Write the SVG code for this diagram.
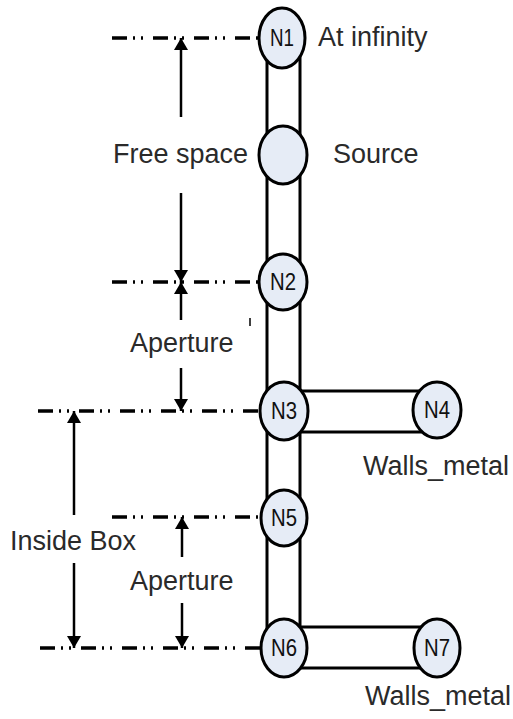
<svg xmlns="http://www.w3.org/2000/svg" width="513" height="719" viewBox="0 0 513 719">
<style>
.dash{stroke:#000;stroke-width:3.5;fill:none;stroke-dasharray:15 6 2 6 2 10}
.dim{stroke:#000;stroke-width:2.5;fill:none;marker-end:url(#ah)}
.tube{stroke:#000;stroke-width:3;fill:none}
.node ellipse{fill:#E6ECF6;stroke:#000;stroke-width:3}
.nl{font-family:"Liberation Sans",Arial,sans-serif;font-size:23px;fill:#111;text-anchor:middle}
.lbl{font-family:"Liberation Sans",Arial,sans-serif;font-size:27px;fill:#2a2a2a}
</style>
<defs>
<marker id="ah" markerUnits="userSpaceOnUse" markerWidth="14" markerHeight="14" refX="12" refY="7" orient="auto">
<path d="M0,0 L12,7 L0,14 z" fill="#000"/>
</marker>
</defs>
<g id="connectors">
<line class="dash" x1="112" y1="38" x2="262" y2="38"/>
<line class="dash" x1="112" y1="282" x2="262" y2="282"/>
<line class="dash" x1="38" y1="411" x2="262" y2="411"/>
<line class="dash" x1="112" y1="517" x2="262" y2="517"/>
<line class="dash" x1="40" y1="648" x2="262" y2="648"/>
<line class="dim" x1="181" y1="117" x2="181" y2="38"/>
<line class="dim" x1="181" y1="193" x2="181" y2="282"/>
<line class="dim" x1="181" y1="320" x2="181" y2="282"/>
<line class="dim" x1="181" y1="368" x2="181" y2="411"/>
<line class="dim" x1="74" y1="515" x2="74" y2="411"/>
<line class="dim" x1="74" y1="563" x2="74" y2="648"/>
<line class="dim" x1="182" y1="557" x2="182" y2="517"/>
<line class="dim" x1="182" y1="603" x2="182" y2="648"/>
<line x1="250" y1="318" x2="250" y2="326" stroke="#000" stroke-width="1.5"/>
<line class="tube" x1="267" y1="38" x2="267" y2="648"/>
<line class="tube" x1="300" y1="38" x2="300" y2="648"/>
<line class="tube" x1="290" y1="391" x2="437" y2="391"/>
<line class="tube" x1="290" y1="432" x2="437" y2="432"/>
<line class="tube" x1="290" y1="627" x2="437" y2="627"/>
<line class="tube" x1="290" y1="668" x2="437" y2="668"/>
</g>
<g id="N1" class="node"><ellipse cx="282" cy="38" rx="23" ry="30"/><text class="nl" x="282" y="46" textLength="24" lengthAdjust="spacingAndGlyphs">N1</text></g>
<g id="Source" class="node"><ellipse cx="283" cy="155" rx="24" ry="29"/></g>
<g id="N2" class="node"><ellipse cx="283" cy="282" rx="24" ry="28"/><text class="nl" x="283" y="290" textLength="26" lengthAdjust="spacingAndGlyphs">N2</text></g>
<g id="N3" class="node"><ellipse cx="284" cy="411" rx="24" ry="29"/><text class="nl" x="284" y="419" textLength="26" lengthAdjust="spacingAndGlyphs">N3</text></g>
<g id="N4" class="node"><ellipse cx="437" cy="410" rx="24" ry="28"/><text class="nl" x="437" y="418" textLength="26" lengthAdjust="spacingAndGlyphs">N4</text></g>
<g id="N5" class="node"><ellipse cx="284" cy="518" rx="23" ry="28"/><text class="nl" x="284" y="526" textLength="26" lengthAdjust="spacingAndGlyphs">N5</text></g>
<g id="N6" class="node"><ellipse cx="284" cy="648" rx="23" ry="29"/><text class="nl" x="284" y="656" textLength="26" lengthAdjust="spacingAndGlyphs">N6</text></g>
<g id="N7" class="node"><ellipse cx="437" cy="648" rx="23" ry="29"/><text class="nl" x="437" y="656" textLength="26" lengthAdjust="spacingAndGlyphs">N7</text></g>
<g id="labels">
<text class="lbl" x="318" y="46">At infinity</text>
<text class="lbl" x="113" y="163">Free space</text>
<text class="lbl" x="333" y="163">Source</text>
<text class="lbl" x="130" y="352">Aperture</text>
<text class="lbl" x="363" y="475">Walls_metal</text>
<text class="lbl" x="10" y="550">Inside Box</text>
<text class="lbl" x="130" y="590">Aperture</text>
<text class="lbl" x="365" y="705">Walls_metal</text>
</g>
</svg>
